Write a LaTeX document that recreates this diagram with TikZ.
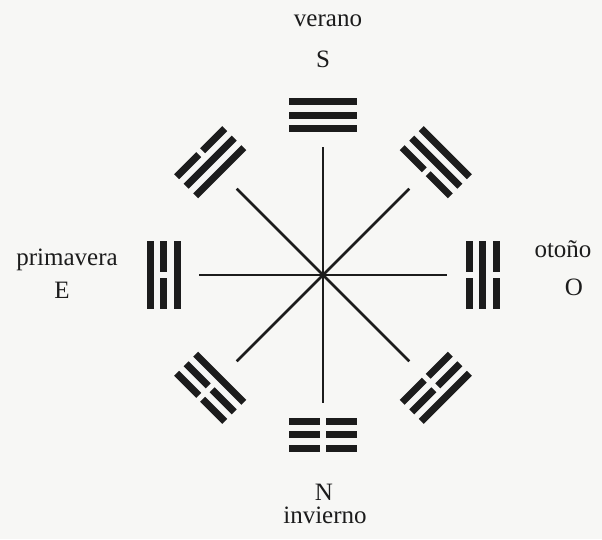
\documentclass[tikz,border=0pt]{standalone}
\usepackage{fontspec}
\setmainfont{Liberation Serif}
\usepackage{tikz}
\usetikzlibrary{positioning}
\definecolor{ink}{RGB}{28,28,28}
\definecolor{paper}{RGB}{247,247,245}
% one trigram: #1 name, #2 direction, #3 lines outer->inner (1 solid, 0 broken)
\newcommand{\gua}[3]{%
  \begin{scope}[shift={(c)}, rotate=#2-90]
    \coordinate (#1) at (0,173);
    \foreach \b [count=\k] in {#3} {
      \pgfmathsetmacro{\yy}{186.5-13.5*\k}
      \ifnum\b=1
        \fill[ink] (-34,\yy-3.5) rectangle (34,\yy+3.5);
      \else
        \fill[ink] (-34,\yy-3.5) rectangle (-2.8,\yy+3.5);
        \fill[ink] (2.8,\yy-3.5) rectangle (34,\yy+3.5);
      \fi
    }
  \end{scope}}

\begin{document}
\begin{tikzpicture}[
    x=1pt, y=1pt,
    axis/.style={draw=ink, line width=2.5pt},
    dirlabel/.style={font=\fontsize{25}{30}\selectfont, text=ink, anchor=base, inner sep=0pt},
  ]
    \fill[paper] (0,0) rectangle (602,539);
    \coordinate (c) at (323,264);

    %── the eight rays ───────────────────────────────────────────────────
    \foreach \nm/\ang/\len in {e/0/124, ne/45/122, n/90/128, nw/135/122,
                               w/180/124, sw/225/122, s/270/128, se/315/122} {
      \path (c) ++(\ang:\len) coordinate (r\nm);
      \draw[axis] (c) -- (r\nm);
    }

    %── trigrams ─────────────────────────────────────────────────────────
    \gua{gS}{90}{1,1,1}
    \gua{gSE}{135}{0,1,1}
    \gua{gE}{180}{1,0,1}
    \gua{gNE}{225}{0,0,1}
    \gua{gN}{270}{0,0,0}
    \gua{gNW}{315}{1,0,0}
    \gua{gO}{0}{0,1,0}
    \gua{gSW}{45}{1,1,0}

    %── seasons and directions ───────────────────────────────────────────
    \node[dirlabel] (verano)    at (328,512) {verano};
    \node[dirlabel] (sur)       at (323,471) {S};
    \node[dirlabel] (norte)     at (324,39)  {N};
    \node[dirlabel] (invierno)  at (325,16)  {invierno};
    \node[dirlabel] (primavera) at (67,274)  {primavera};
    \node[dirlabel] (este)      at (62,241)  {E};
    \node[dirlabel] (otono)     at (563,282) {otoño};
    \node[dirlabel] (oeste)     at (574,244) {O};

  \end{tikzpicture}
\end{document}
